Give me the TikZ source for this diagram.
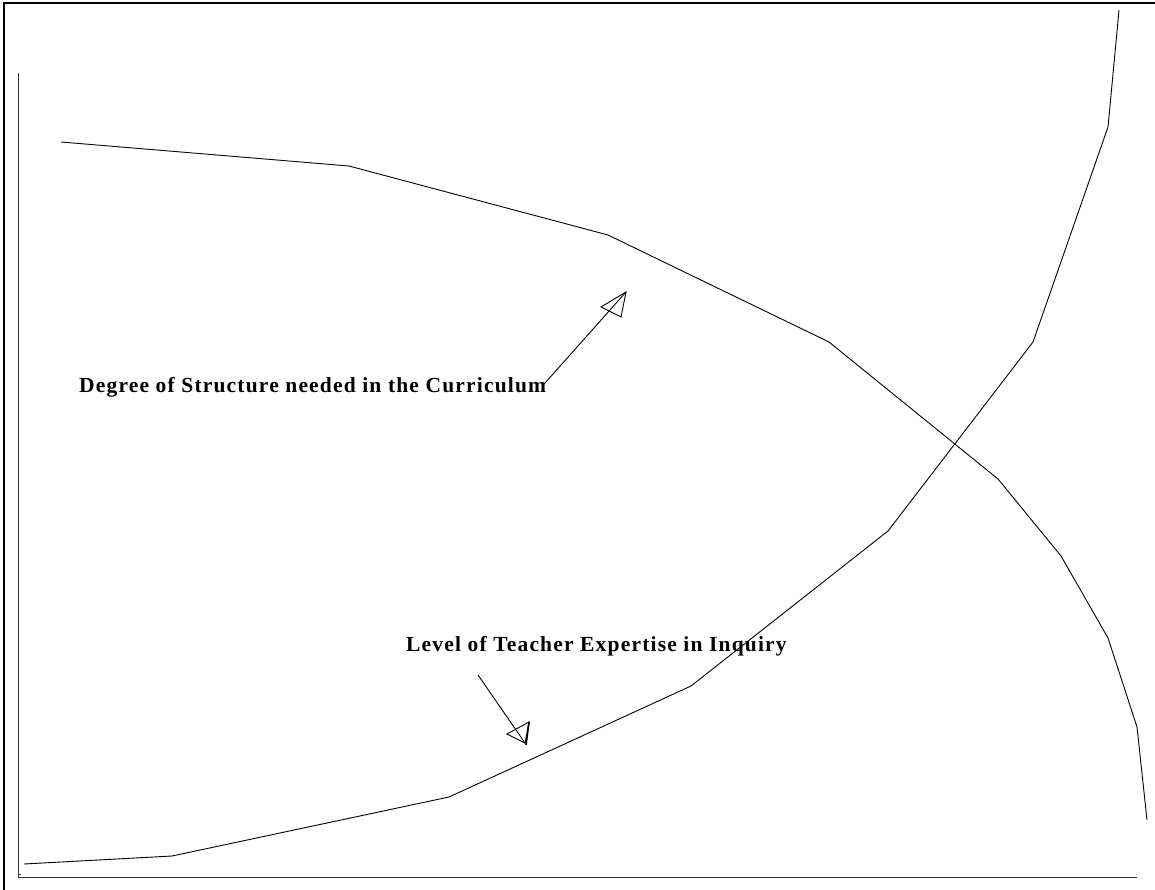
\documentclass[tikz,border=0pt]{standalone}
\usepackage{fontspec}
\setmainfont{Liberation Serif}
\newfontfamily\plotfont[LetterSpace=5.5]{Liberation Serif}
\usetikzlibrary{positioning}

\tikzset{
  curve/.style={line width=0.9pt, line join=miter},
  axis/.style={line width=0.9pt, black!80},
  frame/.style={line width=2.2pt},
  label/.style={anchor=base west, inner sep=0pt, font=\plotfont\bfseries\fontsize{21.5}{25}\selectfont},
  pointer/.style={line width=0.9pt},
}

\begin{document}
\begin{tikzpicture}[x=1pt, y=-1pt]

\useasboundingbox (0,0) rectangle (1155,890);
				% frame (top and left only)
				\draw [frame] (1155,3) -- (4,3) -- (4,890);
				% axes
				\draw [axis] (18,73) -- (18,877) -- (1137,877);
				\draw [axis] (18,874) -- (21,874);
				% Degree of Structure
				\draw [curve] (61,142) -- (349,166) -- (608,235) -- (829,342) -- (998,479)
				  -- (1061,556) -- (1108,638) -- (1137,727) -- (1147,820);
				% Teacher Expertise
				\draw [curve] (24,864) -- (172,856) -- (449,797) -- (691,686) -- (888,531)
				  -- (1033,342) -- (1108,127) -- (1119,10);
				% labels
				\node [label] (structure) at (79,392) {Degree of Structure needed in the Curriculum};
				\node [label] (expertise) at (406,651) {Level of Teacher Expertise in Inquiry};
				\coordinate (tipA) at (626,292);
				\coordinate (tipB) at (525,743);
				% pointers
				\draw [pointer] (structure.base east) ++(-4,-6) -- (tipA);
				\draw [pointer] (601,307) -- (tipA) -- (621,317) -- cycle;
				\draw [pointer] (478,675) -- (tipB);
				\draw [pointer] (507,734) -- (529,722) -- (tipB) -- cycle;
				\draw [line width=1.6pt] (529,722) -- (526,745);
				%\draw [->] (expertise) -- (tipB);

\end{tikzpicture}
\end{document}
